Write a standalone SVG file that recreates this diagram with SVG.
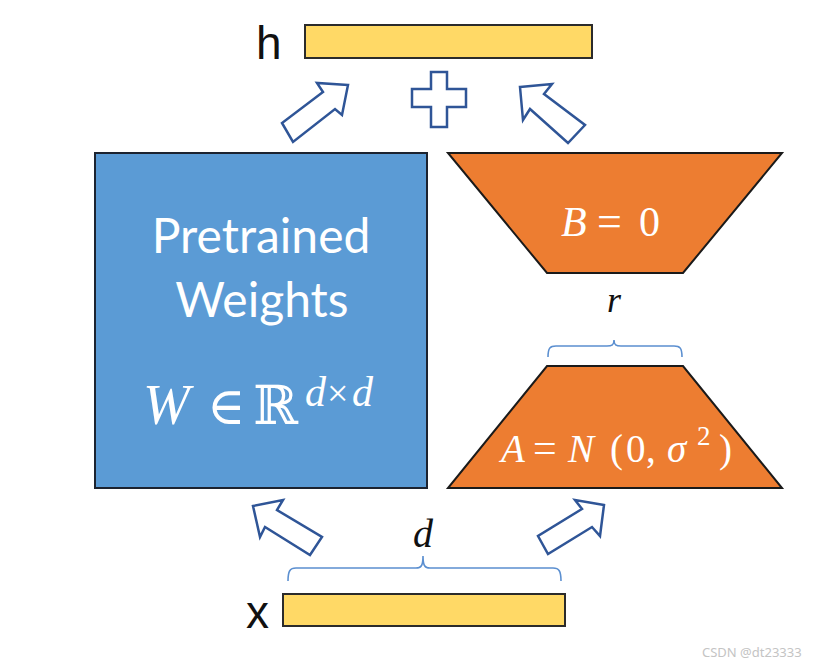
<svg xmlns="http://www.w3.org/2000/svg" width="830" height="667" viewBox="0 0 830 667">
<style>
.bar{fill:#FFD966;stroke:#2b2b2b;stroke-width:2}
.arrow{fill:#ffffff;stroke:#2F5597;stroke-width:2.5;stroke-linejoin:miter}
.brace{fill:none;stroke:#5B8FD0;stroke-width:1.6}
.lbl{font-family:"Liberation Sans",Arial,sans-serif;font-size:46px;fill:#111}
.sans{font-family:Lato,"Open Sans",sans-serif;fill:#fff}
.math{font-family:"Liberation Serif","DejaVu Serif",serif}
.it{font-style:italic}
</style>
<rect width="830" height="667" fill="#ffffff"/>

<g id="h">
  <text class="lbl" x="256" y="59">h</text>
  <rect class="bar" x="305" y="25" width="287" height="33"/>
</g>

<g id="plus">
  <path class="arrow" d="M431,72 H447 V89 H466 V107 H447 V127 H431 V107 H412 V89 H431 Z"/>
</g>

<g id="pretrained">
  <rect x="95" y="153" width="332" height="335" fill="#5B9BD5" stroke="#1c2330" stroke-width="2"/>
  <text class="sans" x="261" y="253" font-size="48" text-anchor="middle">Pretrained</text>
  <text class="sans" x="262" y="317" font-size="48" text-anchor="middle">Weights</text>
  <text class="math" fill="#fff" y="424"><tspan class="it" x="143" font-size="56">W</tspan><tspan x="207" font-size="52">∈</tspan><tspan x="253" font-size="54" font-family="DejaVu Serif">ℝ</tspan><tspan class="it" x="305" y="406" font-size="42">d</tspan><tspan x="327" y="406" font-size="38">×</tspan><tspan class="it" x="352" y="406" font-size="42">d</tspan></text>
</g>

<g id="B">
  <polygon points="448,153 782,153 683,273 547,273" fill="#ED7D31" stroke="#1a1a1a" stroke-width="2"/>
  <text class="math" fill="#fff" y="236"><tspan class="it" x="561" font-size="42">B</tspan><tspan x="597" font-size="44">=</tspan><tspan x="639" font-size="42">0</tspan></text>
</g>

<g id="r">
  <text class="math it" x="614" y="312" font-size="36" text-anchor="middle" fill="#111">r</text>
  <path class="brace" d="M548,357 C548,348 550,346 556,346 L607,346 C612,346 614,345 614,340 C614,345 616,346 621,346 L674,346 C680,346 682,348 682,357"/>
</g>

<g id="A">
  <polygon points="547,366 683,366 782,488 448,488" fill="#ED7D31" stroke="#1a1a1a" stroke-width="2"/>
  <text class="math" fill="#fff" y="462" font-size="39"><tspan class="it" x="501">A</tspan><tspan x="533" font-size="42">=</tspan><tspan class="it" x="568">N</tspan><tspan x="610">(</tspan><tspan x="626">0</tspan><tspan x="646">,</tspan><tspan class="it" x="667">σ</tspan><tspan x="697" y="445" font-size="27">2</tspan><tspan x="719" y="462">)</tspan></text>
</g>

<g id="d">
  <text class="math it" x="423" y="547" font-size="40" text-anchor="middle" fill="#111">d</text>
  <path class="brace" d="M288,581 C288,571 290,568 296,568 L416,568 C421,568 423,566 423,556 C423,566 425,568 430,568 L553,568 C559,568 561,571 561,581"/>
</g>

<g id="x">
  <text class="lbl" x="246" y="628">x</text>
  <rect class="bar" x="283" y="594" width="282" height="32"/>
</g>

<g id="connectors">
  <path class="arrow" d="M348,85 L317,83 L323,92 L282,123 L293,142 L335,109 L342,115 Z"/>
  <path class="arrow" d="M520,87 L552,84 L544,94 L585,125 L568,143 L530,109 L523,120 Z"/>
  <path class="arrow" d="M253,506 L283,500 L277,510 L322,537 L310,555 L265,527 L260,537 Z"/>
  <path class="arrow" d="M604,505 L575,500 L582,509 L538,536 L548,554 L592,527 L600,536 Z"/>
</g>

<text x="702" y="657" font-family="'Noto Sans','DejaVu Sans',sans-serif" font-size="13" fill="#c4c4c4">CSDN @dt23333</text>
</svg>
